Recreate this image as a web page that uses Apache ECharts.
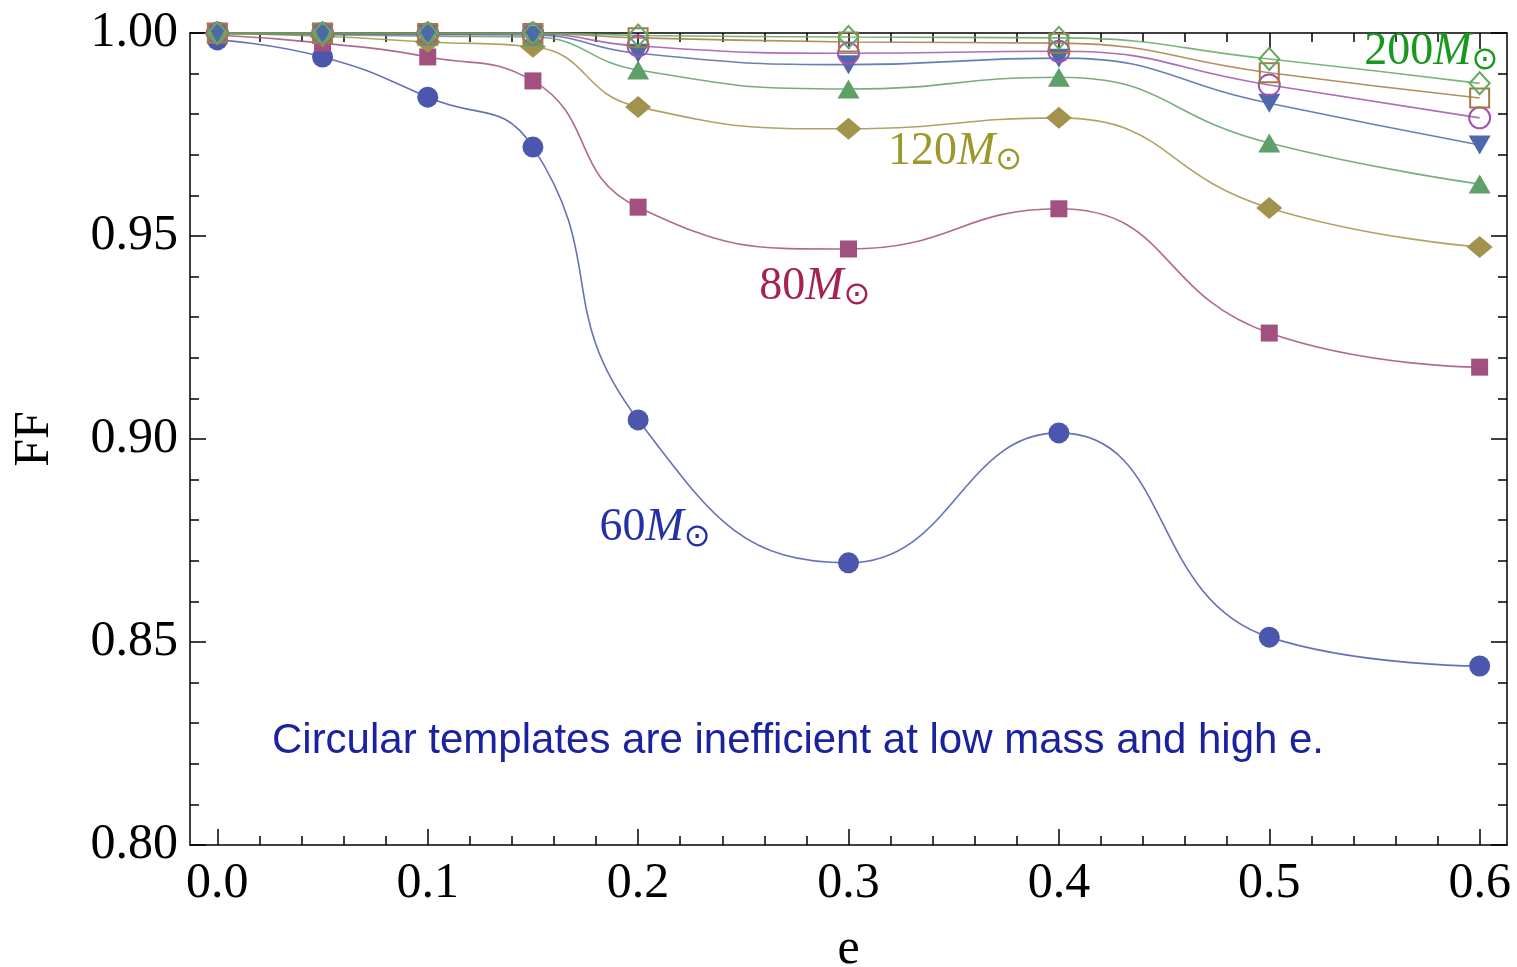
<!DOCTYPE html>
<html>
<head>
<meta charset="utf-8">
<title>FF vs e</title>
<script src="https://cdn.jsdelivr.net/npm/echarts@6/dist/echarts.min.js"></script>
<style>
  html, body { margin: 0; padding: 0; background: #fff; }
  #chart { width: 1517px; height: 967px; }
</style>
</head>
<body>
<div id="chart"></div>
<script>
// eccentricity values (x)
const ecc = [0, 0.05, 0.1, 0.15, 0.2, 0.3, 0.4, 0.5, 0.6]

// fitting factor per template mass
const ff60 = [0.9983, 0.9941, 0.9842, 0.9719, 0.9047, 0.8695, 0.9015, 0.8512, 0.8441]
const ff80 = [0.9995, 0.9975, 0.9941, 0.9882, 0.9571, 0.9468, 0.9567, 0.9261, 0.9177]
const ff120 = [0.9998, 0.9992, 0.9978, 0.9966, 0.9818, 0.9764, 0.9791, 0.9569, 0.9473]
const ffTriUp = [0.9999, 0.9996, 0.9992, 0.9990, 0.9909, 0.9862, 0.9891, 0.9729, 0.9628]
const ffTriDown = [1.0, 0.9998, 0.9996, 0.9995, 0.9950, 0.9922, 0.9938, 0.9827, 0.9724]
const ffOpenCircle = [1.0, 0.9999, 0.9998, 0.9998, 0.9968, 0.9950, 0.9955, 0.9872, 0.9791]
const ffOpenSquare = [1.0, 1.0, 0.9999, 0.9999, 0.9988, 0.9978, 0.9975, 0.9902, 0.9840]
const ff200 = [1.0, 1.0, 1.0, 1.0, 0.9994, 0.9990, 0.9988, 0.9936, 0.9876]

// ticks
const xMajorTicks = [0, 0.1, 0.2, 0.3, 0.4, 0.5, 0.6]
const xMinorTicks = [0.02, 0.04, 0.06, 0.08, 0.12, 0.14, 0.16, 0.18, 0.22, 0.24, 0.26, 0.28,
  0.32, 0.34, 0.36, 0.38, 0.42, 0.44, 0.46, 0.48, 0.52, 0.54, 0.56, 0.58]

const serif = '"Liberation Serif", "DejaVu Serif", serif'

const massLabel = (mass) => `{n|${mass}}{m|M}{s|⊙}`
const massRich = (color) => ({
  n: { fontFamily: serif, fontSize: 46, color },
  m: { fontFamily: serif, fontSize: 46, fontStyle: 'italic', color },
  s: { fontFamily: '"DejaVu Sans", sans-serif', fontSize: 32, color, padding: [18, 0, 0, 0] },
})

const note = (coord, text, rich) => ({
  coord,
  symbol: 'circle',
  symbolSize: 1,
  itemStyle: { color: 'rgba(0,0,0,0)' },
  label: { show: true, position: 'inside', formatter: text, rich },
})

const makeSeries = (name, values, opts) => ({
  name,
  type: 'line',
  smooth: 0.5,
  clip: false,
  data: ecc.map((e, i) => [e, values[i]]),
  symbol: opts.symbol,
  symbolSize: opts.size,
  symbolRotate: opts.rotate || 0,
  showSymbol: true,
  itemStyle: opts.open
    ? { color: 'rgba(0,0,0,0)', borderColor: opts.color, borderWidth: 2 }
    : { color: opts.color },
  lineStyle: { color: opts.color, width: 1.6, opacity: 0.85 },
  emphasis: { disabled: true },
  markPoint: opts.notes ? { silent: true, data: opts.notes } : undefined,
  z: 2,
})

const chart = echarts.init(document.getElementById('chart'))

const tickLine = { color: '#000', width: 1.5 }

const xBase = {
  type: 'value',
  min: -0.013,
  max: 0.613,
  splitLine: { show: false },
  axisLine: { show: true, onZero: false, lineStyle: tickLine },
}

const yBase = {
  type: 'value',
  min: 0.8,
  max: 1.0,
  interval: 0.05,
  splitLine: { show: false },
  axisLine: { show: true, onZero: false, lineStyle: tickLine },
  axisTick: { show: true, inside: true, length: 16, lineStyle: tickLine },
  minorTick: { show: true, splitNumber: 5, length: 9, lineStyle: tickLine },
}

const option = {
  backgroundColor: '#fff',
  animation: false,
  grid: { left: 190, right: 10, top: 33, bottom: 122, outerBoundsMode: 'none', containLabel: false },
  xAxis: [
    {
      ...xBase,
      position: 'bottom',
      name: 'e',
      nameLocation: 'middle',
      nameGap: 80,
      nameTextStyle: { fontFamily: serif, fontSize: 50, color: '#000' },
      axisTick: { show: true, inside: true, length: 16, lineStyle: tickLine, customValues: xMajorTicks },
      axisLabel: {
        customValues: xMajorTicks,
        formatter: (v) => v.toFixed(1),
        fontFamily: serif, fontSize: 50, color: '#000', margin: 14,
      },
    },
    {
      ...xBase,
      position: 'bottom',
      axisLine: { show: false },
      axisTick: { show: true, inside: true, length: 9, lineStyle: tickLine, customValues: xMinorTicks },
      axisLabel: { show: false },
    },
    {
      ...xBase,
      position: 'top',
      axisTick: { show: true, inside: true, length: 16, lineStyle: tickLine, customValues: xMajorTicks },
      axisLabel: { show: false },
    },
    {
      ...xBase,
      position: 'top',
      axisLine: { show: false },
      axisTick: { show: true, inside: true, length: 9, lineStyle: tickLine, customValues: xMinorTicks },
      axisLabel: { show: false },
    },
  ],
  yAxis: [
    {
      ...yBase,
      position: 'left',
      name: 'FF',
      nameLocation: 'middle',
      nameRotate: 90,
      nameGap: 130,
      nameTextStyle: { fontFamily: serif, fontSize: 50, color: '#000' },
      axisLabel: {
        formatter: (v) => v.toFixed(2),
        fontFamily: serif, fontSize: 50, color: '#000', margin: 12,
      },
    },
    {
      ...yBase,
      position: 'right',
      axisLabel: { show: false },
    },
  ],
  series: [
    makeSeries('60 Msun', ff60, {
      symbol: 'circle', size: 21, color: '#4b57ad',
      notes: [
        note([0.208, 0.878], massLabel(60), massRich('#2430a6')),
        note([0.276, 0.8256], 'Circular templates are inefficient at low mass and high e.', {}),
      ],
    }),
    makeSeries('80 Msun', ff80, {
      symbol: 'rect', size: 17, color: '#a2507f',
      notes: [note([0.284, 0.9374], massLabel(80), massRich('#a5224f'))],
    }),
    makeSeries('120 Msun', ff120, {
      symbol: 'diamond', size: [26, 22], color: '#a2934c',
      notes: [note([0.3506, 0.9707], massLabel(120), massRich('#9c982a'))],
    }),
    makeSeries('triangle up', ffTriUp, { symbol: 'triangle', size: [22, 19], color: '#5f9f68' }),
    makeSeries('triangle down', ffTriDown, { symbol: 'triangle', size: [22, 19], rotate: 180, color: '#4e69a9' }),
    makeSeries('open circle', ffOpenCircle, { symbol: 'circle', size: 21, color: '#a152ae', open: true }),
    makeSeries('open square', ffOpenSquare, { symbol: 'rect', size: 19, color: '#a47a44', open: true }),
    makeSeries('200 Msun', ff200, {
      symbol: 'diamond', size: [20, 22], color: '#62a862', open: true,
      notes: [note([0.577, 0.9953], massLabel(200), massRich('#18981c'))],
    }),
  ],
}

// the long annotation uses a sans font in dark blue
option.series[0].markPoint.data[1].label.fontFamily = '"Liberation Sans", Arial, sans-serif'
option.series[0].markPoint.data[1].label.fontSize = 42
option.series[0].markPoint.data[1].label.color = '#1a22a0'

chart.setOption(option)
</script>
</body>
</html>
